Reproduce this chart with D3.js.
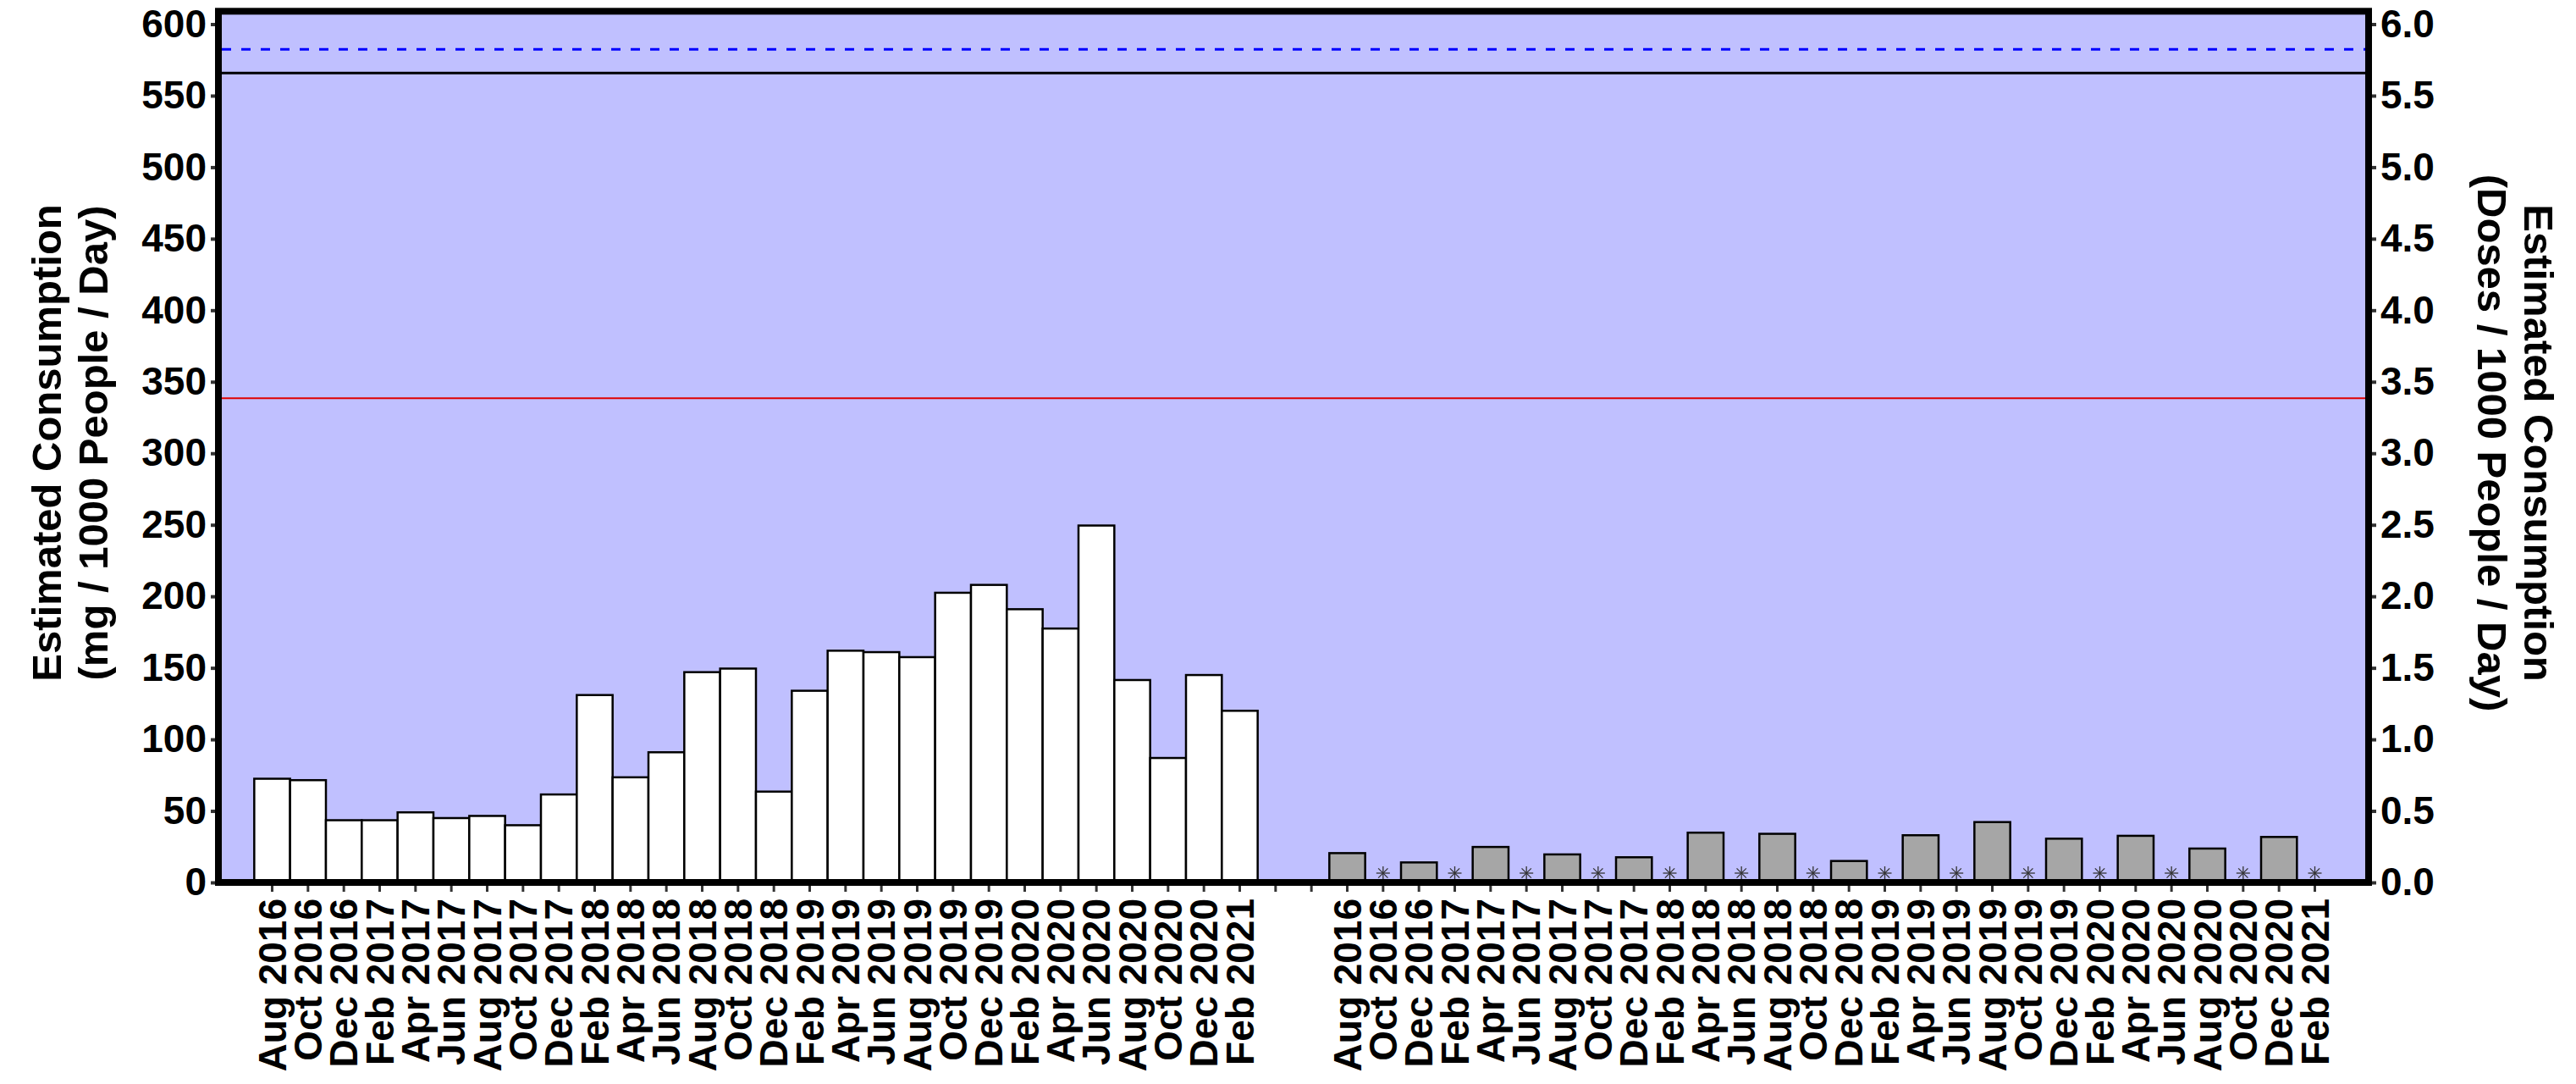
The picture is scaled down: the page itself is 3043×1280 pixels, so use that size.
<!DOCTYPE html>
<html lang="en">
<head>
    <meta charset="UTF-8">
    <title>Estimated Consumption</title>
    <script src="https://d3js.org/d3.v7.min.js"></script>
    <style>
        body { margin: 0; background: #fff; }
        text { font-family: "Liberation Sans", Arial, sans-serif; font-weight: bold; fill: #000; }
    </style>
</head>
<body>
    <svg width="3043" height="1280"></svg>
    <script>
        // months shown under each group of bars
        var months = ["Aug 2016", "Oct 2016", "Dec 2016", "Feb 2017", "Apr 2017", "Jun 2017", "Aug 2017",
            "Oct 2017", "Dec 2017", "Feb 2018", "Apr 2018", "Jun 2018", "Aug 2018", "Oct 2018", "Dec 2018",
            "Feb 2019", "Apr 2019", "Jun 2019", "Aug 2019", "Oct 2019", "Dec 2019", "Feb 2020", "Apr 2020",
            "Jun 2020", "Aug 2020", "Oct 2020", "Dec 2020", "Feb 2021"];

        // mg / 1000 people / day
        var group1Values = [72.5, 71.5, 43.5, 43.5, 49, 45, 46.5, 40, 61.5, 131, 73.5, 91, 147, 149.5, 63.5, 134,
            162, 161, 157.5, 202.5, 208, 191, 177.5, 249.5, 141.5, 87, 145, 120];
        // null = not detected (drawn as asterisk)
        var group2Values = [20.5, null, 14, null, 24.8, null, 19.6, null, 17.6, null, 34.8, null, 34, null,
            15, null, 33, null, 42.2, null, 30.6, null, 32.6, null, 23.7, null, 31.8, null];

        // horizontal reference lines (mg scale): dashed blue, black, red
        var refValues = [582.4, 565.8, 338.5];

        var leftTicks = d3.range(0, 601, 50);
        var rightTicks = d3.range(0, 6.01, 0.5);

        var svg = d3.select("svg");
        var left = 258, right = 2798;
        var nSlots = 60;   // 1 empty + 28 + 2 gap + 28 + 1 empty
        var g2Start = 31;

        var x = d3.scaleBand().domain(d3.range(nSlots)).range([left, right]).padding(0);
        var y = d3.scaleLinear().domain([0, 600]).range([1042, 28.5]);
        var y2 = d3.scaleLinear().domain([0, 6]).range([1042, 28.5]);

        var plotTop = y(609), plotBottom = y(0);

        // plot background
        svg.append("rect")
            .attr("x", left).attr("y", plotTop)
            .attr("width", right - left).attr("height", plotBottom - plotTop)
            .attr("fill", "#c0c0ff");

        // reference lines
        var refStyles = [
            {stroke: "#0000ff", width: 3, dash: "11,12"},
            {stroke: "#000000", width: 3, dash: null},
            {stroke: "#e00000", width: 2, dash: null}
        ];
        svg.selectAll(".ref")
            .data(refValues)
            .enter().append("line")
            .attr("class", "ref")
            .attr("x1", left + 4).attr("x2", right - 4)
            .attr("y1", d => y(d)).attr("y2", d => y(d))
            .attr("stroke", (d, i) => refStyles[i].stroke)
            .attr("stroke-width", (d, i) => refStyles[i].width)
            .attr("stroke-dasharray", (d, i) => refStyles[i].dash);

        // bars, group 1
        svg.selectAll(".bar1")
            .data(group1Values)
            .enter().append("rect")
            .attr("class", "bar1")
            .attr("x", (d, i) => x(i + 1))
            .attr("y", d => y(d))
            .attr("width", x.bandwidth())
            .attr("height", d => y(0) - y(d))
            .attr("fill", "#ffffff")
            .attr("stroke", "#000")
            .attr("stroke-width", 2.5);

        // bars, group 2
        var g2 = group2Values.map((v, i) => ({v: v, slot: i + g2Start}));
        svg.selectAll(".bar2")
            .data(g2.filter(d => d.v !== null))
            .enter().append("rect")
            .attr("class", "bar2")
            .attr("x", d => x(d.slot))
            .attr("y", d => y(d.v))
            .attr("width", x.bandwidth())
            .attr("height", d => y(0) - y(d.v))
            .attr("fill", "#a6a6a6")
            .attr("stroke", "#000")
            .attr("stroke-width", 2.5);

        // asterisks for missing values
        var star = svg.selectAll(".star")
            .data(g2.filter(d => d.v === null))
            .enter().append("g")
            .attr("class", "star")
            .attr("transform", d => "translate(" + (x(d.slot) + x.bandwidth() / 2) + "," + (y(0) - 11) + ")");
        [0, 45, 90, 135].forEach(function(a) {
            var r = 8, t = a * Math.PI / 180;
            star.append("line")
                .attr("x1", -r * Math.cos(t)).attr("y1", -r * Math.sin(t))
                .attr("x2", r * Math.cos(t)).attr("y2", r * Math.sin(t))
                .attr("stroke", "#333").attr("stroke-width", 1.3);
        });

        // x axis
        var labelOf = function(s) {
            if (s >= 1 && s <= 28) return months[s - 1];
            if (s >= g2Start && s < g2Start + 28) return months[s - g2Start];
            return "";
        };
        var xAxis = svg.append("g")
            .attr("transform", "translate(0," + (plotBottom + 1) + ")")
            .call(d3.axisBottom(x).tickValues(d3.range(1, 59)).tickFormat(labelOf).tickSize(10).tickSizeOuter(0));
        xAxis.select(".domain").remove();
        xAxis.selectAll(".tick line").attr("stroke", "#333").attr("stroke-width", 3);
        xAxis.selectAll(".tick text")
            .attr("transform", "rotate(-90)")
            .attr("text-anchor", "end")
            .attr("x", -18).attr("y", 0).attr("dy", "0.35em")
            .style("font-size", "46px");

        // left axis
        var yAxisL = svg.append("g")
            .attr("transform", "translate(" + (left - 3) + ",0)")
            .call(d3.axisLeft(y).tickValues(leftTicks).tickSize(6).tickPadding(5).tickSizeOuter(0));
        yAxisL.select(".domain").remove();
        yAxisL.selectAll(".tick line").attr("stroke", "#333").attr("stroke-width", 4);
        yAxisL.selectAll(".tick text").style("font-size", "46px");

        // right axis
        var yAxisR = svg.append("g")
            .attr("transform", "translate(" + (right + 3) + ",0)")
            .call(d3.axisRight(y2).tickValues(rightTicks).tickFormat(d3.format(".1f")).tickSize(6).tickPadding(5).tickSizeOuter(0));
        yAxisR.select(".domain").remove();
        yAxisR.selectAll(".tick line").attr("stroke", "#333").attr("stroke-width", 4);
        yAxisR.selectAll(".tick text").style("font-size", "46px");

        // frame
        svg.append("rect")
            .attr("x", left).attr("y", plotTop)
            .attr("width", right - left).attr("height", plotBottom - plotTop)
            .attr("fill", "none")
            .attr("stroke", "#000")
            .attr("stroke-width", 8);

        // axis titles
        var midY = 523;
        var lt = svg.append("g").attr("transform", "translate(0," + midY + ")rotate(-90)");
        lt.append("text").attr("x", 0).attr("y", 72).attr("text-anchor", "middle")
            .style("font-size", "49px").text("Estimated Consumption");
        lt.append("text").attr("x", 0).attr("y", 127).attr("text-anchor", "middle")
            .style("font-size", "49px").text("(mg / 1000 People / Day)");

        var rt = svg.append("g").attr("transform", "translate(0," + midY + ")rotate(90)");
        rt.append("text").attr("x", 0).attr("y", -2982).attr("text-anchor", "middle")
            .style("font-size", "49px").text("Estimated Consumption");
        rt.append("text").attr("x", 0).attr("y", -2927).attr("text-anchor", "middle")
            .style("font-size", "49px").text("(Doses / 1000 People / Day)");
    </script>
</body>
</html>
